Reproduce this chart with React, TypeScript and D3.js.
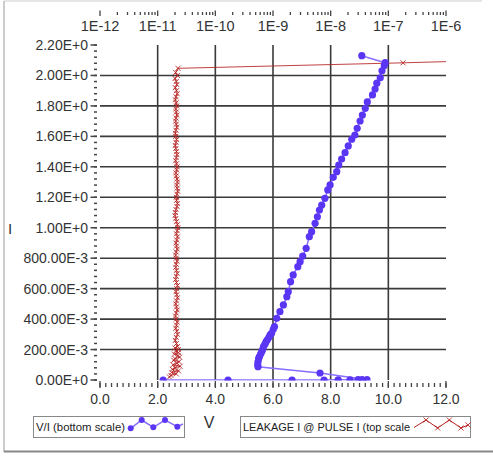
import React from 'react'
import * as d3 from 'd3'

// V/I curve (bottom scale): volts, amps
const viVolts = [
  2.19, 4.44, 6.66, 7.77, 8.26, 8.67, 8.95, 9.09, 9.26,
  7.63, 5.48, 5.47, 5.48, 5.50, 5.53, 5.57, 5.61, 5.64, 5.67, 5.72, 5.76, 5.81,
  5.86, 5.90, 5.95, 6.01, 6.05, 6.13, 6.24, 6.36, 6.48, 6.53, 6.61, 6.70, 6.86,
  6.94, 7.03, 7.15, 7.26, 7.34, 7.46, 7.54, 7.61, 7.69, 7.80, 7.90, 7.98, 8.09,
  8.21, 8.28, 8.38, 8.50, 8.61, 8.73, 8.84, 8.92, 9.02, 9.10, 9.20, 9.27, 9.45,
  9.54, 9.60, 9.72, 9.78, 9.86, 9.89, 9.08,
]
const viAmps = [
  0.0, 0.0, 0.0, 0.0, 0.001, 0.001, 0.002, 0.002, 0.002,
  0.046, 0.087, 0.10, 0.12, 0.14, 0.153, 0.17, 0.186, 0.20, 0.219, 0.235, 0.252, 0.266,
  0.28, 0.296, 0.307, 0.333, 0.350, 0.405, 0.449, 0.493, 0.547, 0.580, 0.646, 0.690, 0.744,
  0.777, 0.814, 0.865, 0.941, 0.974, 1.029, 1.072, 1.116, 1.149, 1.193, 1.248, 1.281, 1.331,
  1.368, 1.412, 1.451, 1.493, 1.537, 1.581, 1.609, 1.653, 1.701, 1.740, 1.784, 1.826, 1.872,
  1.911, 1.949, 1.985, 2.031, 2.065, 2.084, 2.130,
]

// leakage current @ pulse current (top scale): amps leakage, amps pulse
const leakPulse = [
  0.02, 0.03, 0.04, 0.05, 0.06, 0.07, 0.08, 0.09, 0.10, 0.11, 0.12, 0.13, 0.14,
  0.15, 0.16, 0.17, 0.18, 0.19, 0.20, 0.21, 0.22, 0.24, 0.26, 0.28, 0.30, 0.32,
  0.34, 0.36, 0.38, 0.40, 0.42, 0.44, 0.46, 0.48, 0.50, 0.52, 0.54, 0.56, 0.58,
  0.60, 0.62, 0.64, 0.66, 0.68, 0.70, 0.72, 0.74, 0.76, 0.78, 0.80, 0.82, 0.84,
  0.86, 0.88, 0.90, 0.92, 0.94, 0.96, 0.98, 1.00, 1.02, 1.04, 1.06, 1.08, 1.10,
  1.12, 1.14, 1.16, 1.18, 1.20, 1.22, 1.24, 1.26, 1.28, 1.30, 1.32, 1.34, 1.36,
  1.38, 1.40, 1.42, 1.44, 1.46, 1.48, 1.50, 1.52, 1.54, 1.56, 1.58, 1.60, 1.62,
  1.64, 1.66, 1.68, 1.70, 1.72, 1.74, 1.76, 1.78, 1.80, 1.82, 1.84, 1.86, 1.88,
  1.90, 1.92, 1.94, 1.96, 1.98, 2.00, 2.02, 2.047, 2.083, 2.098,
]
const leakAmps = [
  1.6e-11, 1.7e-11, 2.1e-11, 1.75e-11, 2.3e-11, 1.8e-11, 2.0e-11, 2.45e-11, 1.85e-11, 2.15e-11, 2.35e-11, 1.9e-11, 2.0e-11,
  2.4e-11, 2.25e-11, 1.95e-11, 2.3e-11, 2.05e-11, 2.28e-11, 2.0e-11, 2.22e-11, 2.12e-11, 2.02e-11, 2.1e-11, 2.2e-11, 2.14e-11,
  2.06e-11, 2.12e-11, 2.18e-11, 2.1e-11, 2.04e-11, 2.1e-11, 2.18e-11, 2.12e-11, 2.06e-11, 2.12e-11, 2.2e-11, 2.14e-11, 2.08e-11,
  2.14e-11, 2.2e-11, 2.12e-11, 2.05e-11, 2.1e-11, 2.18e-11, 2.12e-11, 2.06e-11, 2.1e-11, 2.16e-11, 2.1e-11, 2.05e-11, 2.1e-11,
  2.18e-11, 2.12e-11, 2.08e-11, 2.14e-11, 2.2e-11, 2.12e-11, 2.18e-11, 2.24e-11, 2.2e-11, 2.12e-11, 2.06e-11, 2.0e-11, 2.03e-11,
  2.08e-11, 2.16e-11, 2.2e-11, 2.13e-11, 2.1e-11, 2.16e-11, 2.22e-11, 2.18e-11, 2.14e-11, 2.2e-11, 2.16e-11, 2.1e-11, 2.07e-11,
  2.13e-11, 2.18e-11, 2.12e-11, 2.05e-11, 2.1e-11, 2.16e-11, 2.12e-11, 2.07e-11, 2.02e-11, 2.08e-11, 2.12e-11, 2.06e-11, 2.03e-11,
  2.07e-11, 2.14e-11, 2.1e-11, 2.05e-11, 2.08e-11, 2.15e-11, 2.1e-11, 2.06e-11, 2.14e-11, 2.1e-11, 2.03e-11, 2.08e-11, 2.18e-11,
  2.12e-11, 2.02e-11, 2.15e-11, 2.1e-11, 2.0e-11, 2.2e-11, 2.05e-11, 2.25e-11, 1.8e-7, 5e-6,
]

const voltTicks = [0, 2, 4, 6, 8, 10, 12]
const voltLabels = ['0.0', '2.0', '4.0', '6.0', '8.0', '10.0', '12.0']
const ampTicks = [2.2, 2.0, 1.8, 1.6, 1.4, 1.2, 1.0, 0.8, 0.6, 0.4, 0.2, 0]
const ampLabels = [
  '2.20E+0', '2.00E+0', '1.80E+0', '1.60E+0', '1.40E+0', '1.20E+0', '1.00E+0',
  '800.00E-3', '600.00E-3', '400.00E-3', '200.00E-3', '0.00E+0',
]
const decades = [-12, -11, -10, -9, -8, -7, -6]
const decadeLabels = ['1E-12', '1E-11', '1E-10', '1E-9', '1E-8', '1E-7', '1E-6']

const W = 493
const H = 456
const FONT = '"Liberation Sans", Arial, sans-serif'
const BLUE = '#5a36f4'
const BLUE_LINE = '#8a6eff'
const RED = '#b52020'
const GRID = '#3a3a3a'
const TXT = '#333'

export default function App() {
  const x = d3.scaleLinear().domain([0, 12]).range([100, 446])
  const xTop = d3.scaleLog().domain([1e-12, 1e-6]).range([100, 446])
  const y = d3.scaleLinear().domain([0, 2.2]).range([380, 45])

  const viPts: [number, number][] = viVolts.map((v, i) => [x(v), y(viAmps[i])])
  const leakPts: [number, number][] = leakAmps.map((a, i) => [xTop(a), y(leakPulse[i])])
  const line = d3.line()

  const minorV = d3.range(0, 12.001, 0.2)
  const minorI = d3.range(0, 2.2001, 0.04)
  const minorTop: number[] = []
  decades.slice(0, -1).forEach(d => {
    for (let k = 2; k <= 9; k++) minorTop.push(k * Math.pow(10, d))
  })

  const cross = (cx: number, cy: number, s: number, key: string | number) => (
    <path key={key} d={`M${cx - s},${cy - s}L${cx + s},${cy + s}M${cx - s},${cy + s}L${cx + s},${cy - s}`}
      stroke={RED} strokeWidth={1} strokeOpacity={0.85} fill="none" />
  )

  const legBlue: [number, number][] = [[130.7, 428.3], [141.7, 420], [153.3, 427.3], [165, 420], [177.3, 426.7], [183, 424]]
  const legRed: [number, number][] = [[414, 427.5], [426, 420], [437.7, 428], [449.3, 420], [461, 428], [468, 425]]

  return (
    <div style={{ position: 'absolute', left: 0, top: 0 }}>
      <svg width={W} height={H} style={{ display: 'block', fontFamily: FONT }}>
        <defs>
          <clipPath id="plot">
            <rect x={100} y={40} width={346} height={340.5} />
          </clipPath>
        </defs>
        <rect width={W} height={H} fill="#fff" />
        {/* outer frame */}
        <line x1={4} x2={4} y1={1} y2={452} stroke="#aaa" strokeWidth={1.2} />
        <line x1={4} x2={482} y1={1} y2={1} stroke="#ccc" strokeWidth={1} />
        <line x1={4} x2={W} y1={451.5} y2={451.5} stroke="#888" strokeWidth={2.2} />

        {/* grid */}
        {voltTicks.filter(v => v > 0 && v < 12).map(v => (
          <line key={'gv' + v} x1={x(v)} x2={x(v)} y1={45} y2={380} stroke={GRID} strokeWidth={1.6} />
        ))}
        {ampTicks.filter(a => a > 0 && a < 2.2).map(a => (
          <line key={'ga' + a} x1={100} x2={446} y1={y(a)} y2={y(a)} stroke={GRID} strokeWidth={1.6} />
        ))}

        {/* left axis */}
        {minorI.map((a, i) => (
          <line key={'mi' + i} x1={94} x2={97} y1={y(a)} y2={y(a)} stroke="#444" strokeWidth={1.5} />
        ))}
        {ampTicks.map((a, i) => (
          <g key={'ya' + i}>
            <line x1={90.5} x2={97} y1={y(a)} y2={y(a)} stroke="#444" strokeWidth={1.5} />
            <text x={88} y={y(a)} dy="0.36em" textAnchor="end" fontSize={14} fill={TXT}>{ampLabels[i]}</text>
          </g>
        ))}
        <text x={10} y={234} textAnchor="middle" fontSize={15} fill={TXT}>I</text>

        {/* bottom axis */}
        {minorV.map((v, i) => (
          <line key={'mv' + i} x1={x(v)} x2={x(v)} y1={383} y2={387} stroke="#444" strokeWidth={1.3} />
        ))}
        {voltTicks.map((v, i) => (
          <g key={'xv' + i}>
            <line x1={x(v)} x2={x(v)} y1={381} y2={388} stroke="#444" strokeWidth={1.3} />
            <text x={x(v)} y={404} textAnchor="middle" fontSize={14} fill={TXT}>{voltLabels[i]}</text>
          </g>
        ))}
        <text x={209} y={428} textAnchor="middle" fontSize={16} fill={TXT}>V</text>

        {/* top axis */}
        {minorTop.map((a, i) => (
          <line key={'mt' + i} x1={xTop(a)} x2={xTop(a)} y1={12} y2={15} stroke="#444" strokeWidth={1.3} />
        ))}
        {decades.map((d, i) => (
          <g key={'td' + i}>
            <line x1={xTop(Math.pow(10, d))} x2={xTop(Math.pow(10, d))} y1={10.5} y2={16} stroke="#444" strokeWidth={1.3} />
            <text x={xTop(Math.pow(10, d))} y={30.5} textAnchor="middle" fontSize={14.5} fill={TXT}>{decadeLabels[i]}</text>
          </g>
        ))}

        {/* series */}
        <g clipPath="url(#plot)">
          <path d={line(leakPts) || ''} fill="none" stroke={RED} strokeWidth={1} strokeOpacity={0.85} />
          {leakPts.map(([px, py], i) => cross(px, py, 2.5, 'lk' + i))}
          <path d={line(viPts) || ''} fill="none" stroke={BLUE_LINE} strokeWidth={1.5} />
          {viPts.map(([px, py], i) => (
            <circle key={'vi' + i} cx={px} cy={py} r={3.6} fill={BLUE} />
          ))}
        </g>

        {/* legends */}
        <rect x={33.5} y={416.5} width={151} height={21} fill="#fff" stroke="#888" strokeWidth={1} />
        <text x={36} y={430.5} fontSize={11.5} fill="#222" textLength={89} lengthAdjust="spacingAndGlyphs">V/I (bottom scale)</text>
        <path d={line(legBlue) || ''} fill="none" stroke={BLUE_LINE} strokeWidth={1.5} />
        {legBlue.slice(0, 5).map(([px, py], i) => (
          <circle key={'lb' + i} cx={px} cy={py} r={3} fill={BLUE} />
        ))}

        <rect x={240.5} y={416.5} width={230} height={21} fill="#fff" stroke="#888" strokeWidth={1} />
        <text x={243} y={430.5} fontSize={11.5} fill="#222" textLength={167} lengthAdjust="spacingAndGlyphs">LEAKAGE I @ PULSE I (top scale</text>
        <path d={line(legRed) || ''} fill="none" stroke={RED} strokeWidth={1} />
        {legRed.slice(1).map(([px, py], i) => cross(px, py, 2.5, 'lr' + i))}
      </svg>
    </div>
  )
}
